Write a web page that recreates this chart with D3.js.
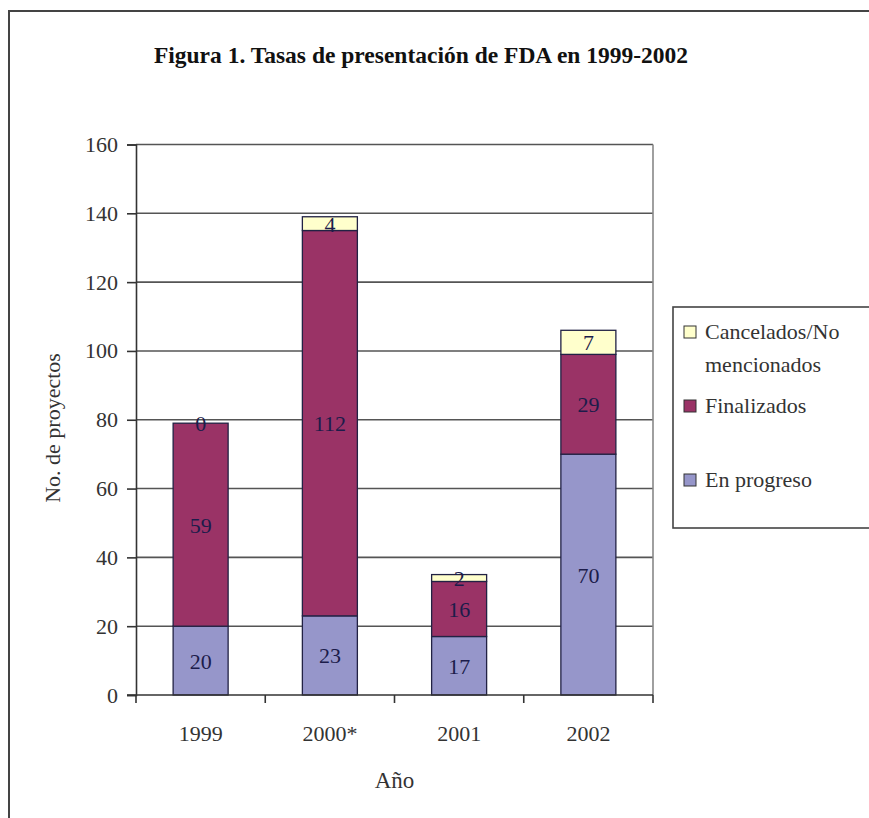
<!DOCTYPE html>
<html><head><meta charset="utf-8">
<script src="https://cdn.jsdelivr.net/npm/d3@7"></script>
<style>body{margin:0;background:#fff}svg{display:block}</style>
</head><body>
<script>
const categories = ["1999", "2000*", "2001", "2002"];
const enProgreso = [20, 23, 17, 70];
const finalizados = [59, 112, 16, 29];
const cancelados = [0, 4, 2, 7];
const seriesNames = ["En progreso", "Finalizados", "Cancelados/No mencionados"];
const legendLabels = [["Cancelados/No", "mencionados"], ["Finalizados"], ["En progreso"]];
const yTicks = [0, 20, 40, 60, 80, 100, 120, 140, 160];
const title = "Figura 1. Tasas de presentación de FDA en 1999-2002";
const xTitle = "Año";
const yTitle = "No. de proyectos";

const W = 869, H = 818;
const colors = ["#9696CA", "#9A3366", "#FFFFCC"];
const font = "'Liberation Serif', 'Times New Roman', serif";

const svg = d3.select("body").append("svg").attr("width", W).attr("height", H);
svg.append("rect").attr("width", W).attr("height", H).attr("fill", "#fff");
svg.append("path").attr("d", `M9,${H} V11 H${W}`).attr("fill", "none").attr("stroke", "#444").attr("stroke-width", 2);

const L = 136, R = 653, T = 144.5, B = 695;
const x = d3.scaleBand().domain(categories).range([L, R]);
const y = d3.scaleLinear().domain([0, 160]).range([B, T]);

svg.append("text").attr("x", 421).attr("y", 63).attr("text-anchor", "middle")
  .style("font-family", font).attr("font-weight", "bold").attr("font-size", 23.5)
  .attr("fill", "#111").text(title);

svg.append("g").selectAll("line").data(yTicks.filter(d => d > 0)).join("line")
  .attr("x1", L).attr("x2", R).attr("y1", d => y(d)).attr("y2", d => y(d))
  .attr("stroke", "#555").attr("stroke-width", 1.6);
svg.append("line").attr("x1", R).attr("x2", R).attr("y1", T).attr("y2", B)
  .attr("stroke", "#888").attr("stroke-width", 1.6);

const yAxis = svg.append("g").attr("transform", `translate(${L},0)`)
  .call(d3.axisLeft(y).tickValues(yTicks).tickSize(9).tickPadding(9).tickFormat(d3.format("d")));
yAxis.select(".domain").attr("stroke", "#333").attr("stroke-width", 1.6);
yAxis.selectAll(".tick line").attr("stroke", "#333").attr("stroke-width", 1.6);
yAxis.selectAll("text").style("font-family", font).attr("font-size", 22).attr("fill", "#333");

const stackData = categories.map((c, i) => ({cat: c, s0: enProgreso[i], s1: finalizados[i], s2: cancelados[i]}));
const stack = d3.stack().keys(["s0", "s1", "s2"])(stackData);
const bw = 55;
const g = svg.append("g");
stack.forEach((layer, li) => {
  g.append("g").selectAll("rect").data(layer).join("rect")
    .attr("x", d => x(d.data.cat) + x.bandwidth() / 2 - bw / 2)
    .attr("width", bw)
    .attr("y", d => y(d[1]))
    .attr("height", d => y(d[0]) - y(d[1]))
    .attr("fill", colors[li]).attr("stroke", "#222244").attr("stroke-width", 1.3);
});
stack.forEach((layer, li) => {
  g.append("g").selectAll("text").data(layer).join("text")
    .attr("x", d => x(d.data.cat) + x.bandwidth() / 2)
    .attr("y", d => (y(d[0]) + y(d[1])) / 2 + 8)
    .attr("text-anchor", "middle").style("font-family", font).attr("font-size", 22)
    .attr("fill", "#1c1c4a")
    .text(d => d[1] - d[0]);
});

const xAxis = svg.append("g").attr("transform", `translate(0,${B})`)
  .call(d3.axisBottom(x).tickSize(0).tickPadding(0));
xAxis.select(".domain").remove();
svg.append("line").attr("x1", L - 9).attr("x2", R).attr("y1", B).attr("y2", B)
  .attr("stroke", "#333").attr("stroke-width", 1.6);
const bounds = categories.map(c => x(c)).concat([R]);
svg.append("g").selectAll("line").data(bounds).join("line")
  .attr("x1", d => d).attr("x2", d => d).attr("y1", B).attr("y2", B + 8)
  .attr("stroke", "#333").attr("stroke-width", 1.6);
xAxis.selectAll("text").style("font-family", font).attr("font-size", 22).attr("fill", "#333")
  .attr("dy", null).attr("y", 46);

svg.append("text").attr("x", (L + R) / 2).attr("y", 788).attr("text-anchor", "middle")
  .style("font-family", font).attr("font-size", 23).attr("fill", "#333").text(xTitle);
svg.append("text").attr("transform", `translate(60,${428}) rotate(-90)`).attr("text-anchor", "middle")
  .style("font-family", font).attr("font-size", 22).attr("fill", "#333").text(yTitle);

const lg = svg.append("g");
lg.append("rect").attr("x", 673).attr("y", 307).attr("width", 220).attr("height", 221)
  .attr("fill", "#fff").attr("stroke", "#444").attr("stroke-width", 1.6);
const legendY = [332, 406, 480];
const legendColors = [colors[2], colors[1], colors[0]];
legendLabels.forEach((lines, i) => {
  lg.append("rect").attr("x", 684).attr("y", legendY[i] - 6).attr("width", 12).attr("height", 12)
    .attr("fill", legendColors[i]).attr("stroke", "#333").attr("stroke-width", 1);
  lines.forEach((t, j) => {
    lg.append("text").attr("x", 705).attr("y", legendY[i] + 7 + j * 33)
      .style("font-family", font).attr("font-size", 22).attr("fill", "#333").text(t);
  });
});
</script>
</body></html>
